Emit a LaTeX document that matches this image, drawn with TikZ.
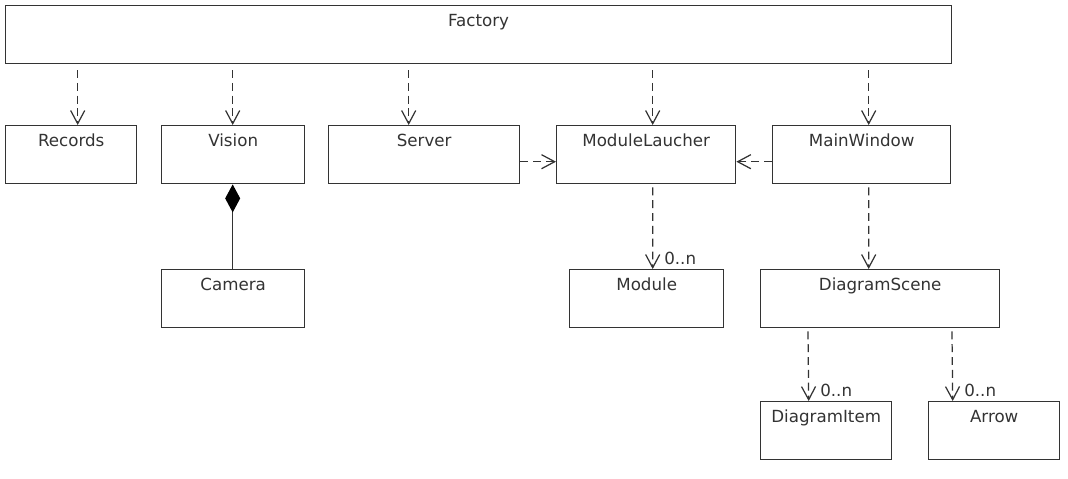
\documentclass[tikz,border=0pt]{standalone}
\usepackage{fontspec}
\setmainfont{DejaVu Sans}
\usetikzlibrary{arrows.meta}

\begin{document}
\begin{tikzpicture}[x=0.02cm,y=-0.02cm,
	font=\fontsize{9.5}{11}\selectfont,
	cls/.style={draw=black!80, line width=0.8pt, anchor=north west, minimum height=1.16cm, inner sep=0pt},
	clsname/.style={anchor=north, inner sep=0pt, yshift=-0.17cm, text=black!80},
	dep/.style={draw=black!80, line width=0.7pt, dash pattern=on 4.5pt off 2.8pt, -{Straight Barb[length=7.5pt, width=8pt]}},
	mult/.style={anchor=south west, inner sep=0pt, xshift=0.22cm, yshift=0.07cm, text=black!80}]
					%\draw[help lines] (0,0) grid (1068,478);
					\useasboundingbox (0,0) rectangle (1068,478);
					
					%CLASSES
					\node[cls, minimum width=18.92cm, label={[clsname]north:Factory}] (fac) at (5,5) {};
					
					\node[cls, minimum width=2.62cm, label={[clsname]north:Records}] (rec) at (5,125) {};
					\node[cls, minimum width=2.86cm, label={[clsname]north:Vision}] (vis) at (161,125) {};
					\node[cls, minimum width=3.82cm, label={[clsname]north:Server}] (srv) at (328,125) {};
					\node[cls, minimum width=3.58cm, label={[clsname]north:ModuleLaucher}] (ml) at (556,125) {};
					\node[cls, minimum width=3.56cm, label={[clsname]north:MainWindow}] (mw) at (772,125) {};
					
					\node[cls, minimum width=2.86cm, label={[clsname]north:Camera}] (cam) at (161,269) {};
					\node[cls, minimum width=3.08cm, label={[clsname]north:Module}] (mdl) at (569,269) {};
					\node[cls, minimum width=4.78cm, label={[clsname]north:DiagramScene}] (ds) at (760,269) {};
					
					\node[cls, minimum width=2.62cm, label={[clsname]north:DiagramItem}] (di) at (760,401) {};
					\node[cls, minimum width=2.62cm, label={[clsname]north:Arrow}] (arw) at (928,401) {};
					
					%DEPENDANCES
					\draw[dep] ([xshift=0.13cm,yshift=1.1cm]rec.north) -- ([xshift=0.13cm]rec.north);
					\draw[dep] ([xshift=-0.01cm,yshift=1.1cm]vis.north) -- ([xshift=-0.01cm]vis.north);
					\draw[dep] ([xshift=-0.31cm,yshift=1.1cm]srv.north) -- ([xshift=-0.31cm]srv.north);
					\draw[dep] ([xshift=0.13cm,yshift=1.1cm]ml.north) -- ([xshift=0.13cm]ml.north);
					\draw[dep] ([xshift=0.14cm,yshift=1.1cm]mw.north) -- ([xshift=0.14cm]mw.north);
					
					\draw[dep] ([yshift=-0.14cm]srv.east) -- ([yshift=-0.14cm]ml.west);
					\draw[dep] ([yshift=-0.14cm]mw.west) -- ([yshift=-0.14cm]ml.east);
					
					\draw[dep] ([xshift=0.13cm,yshift=-0.06cm]ml.south) -- ([xshift=0.12cm]mdl.north) node[mult]{0..n};
					\draw[dep] ([xshift=0.14cm,yshift=-0.06cm]mw.south) -- ([xshift=-0.23cm]ds.north);
					\draw[dep] ([xshift=0.96cm,yshift=-0.06cm]ds.south west) -- ([xshift=-0.35cm]di.north) node[mult]{0..n};
					\draw[dep] ([xshift=3.84cm,yshift=-0.06cm]ds.south west) -- ([xshift=-0.83cm]arw.north) node[mult]{0..n};
					
					%COMPOSITION
					\draw[draw=black!80, line width=0.7pt, {Diamond[length=0.56cm, width=0.3cm, black]}-] ([xshift=-0.01cm]vis.south) -- ([xshift=-0.01cm]cam.north);
					
\end{tikzpicture}
\end{document}
